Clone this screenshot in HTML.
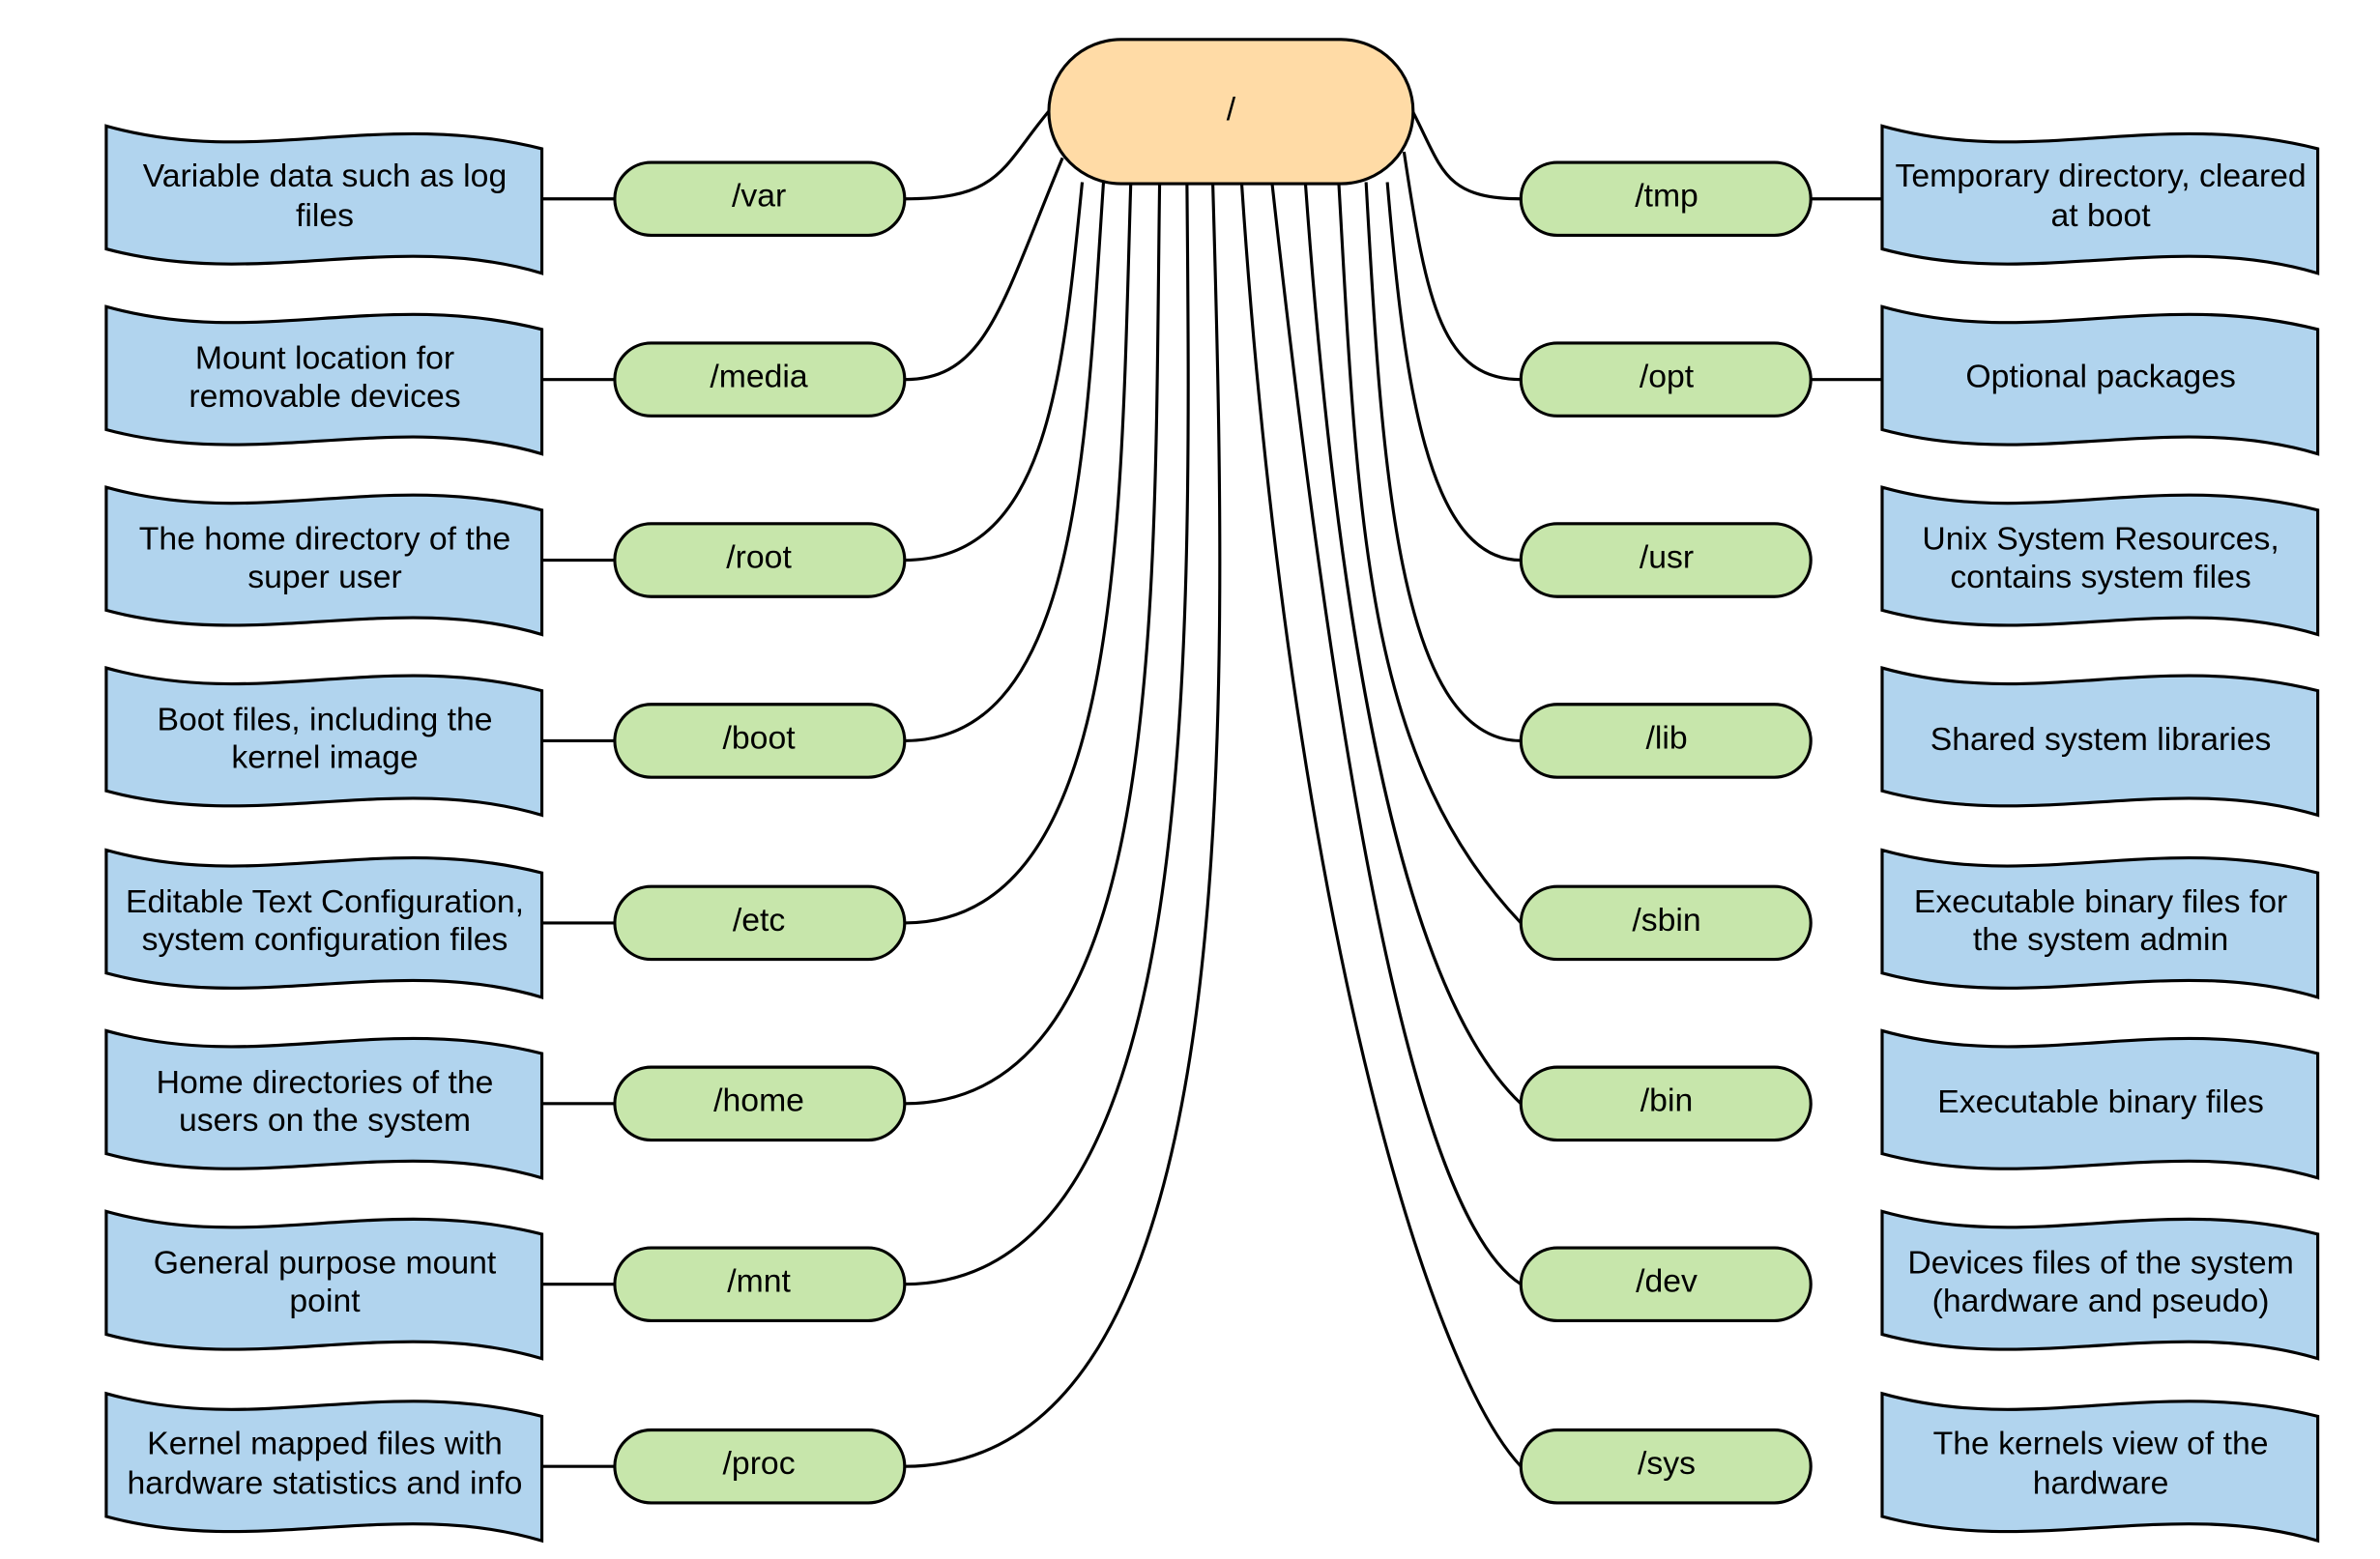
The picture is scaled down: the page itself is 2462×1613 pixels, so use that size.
<!DOCTYPE html>
<html><head><meta charset="utf-8"><style>
html,body{margin:0;padding:0;background:#fff;}
svg{display:block;}
text{font-family:"Liberation Sans",Arial,sans-serif;font-size:21.5px;fill:#000;text-anchor:middle;dominant-baseline:central;}
</style></head><body>
<svg width="2462" height="1613" viewBox="0 0 1568 1027" preserveAspectRatio="none" xmlns="http://www.w3.org/2000/svg">
<g fill="none" stroke="#000" stroke-width="2">
<path d="M596,131 C660,131 660,110 692,72"/>
<path d="M596,250 C650,250 660,200 700,104"/>
<path d="M596,369 C690,369 700,250 713,120"/>
<path d="M596,488 C710,488 715,300 727,120"/>
<path d="M596,608 C740,608 738,350 745,120"/>
<path d="M596,727 C770,727 760,400 764,120"/>
<path d="M596,846 C790,846 785,450 782,120"/>
<path d="M596,966 C820,966 810,500 799,120"/>
<path d="M1002,131 C950,131 950,110 930,72"/>
<path d="M1002,250 C950,250 940,200 925,100"/>
<path d="M1002,369 C940,369 925,250 914,120"/>
<path d="M1002,488 C920,488 910,300 900,120"/>
<path d="M1002,608 C900,500 895,350 882,120"/>
<path d="M1002,727 C920,650 880,400 860,120"/>
<path d="M1002,846 C930,800 880,500 838,120"/>
<path d="M1002,966 C940,900 850,600 818,120"/>
<path d="M357,131H405M357,250H405M357,369H405M357,488H405M357,608H405M357,727H405M357,846H405M357,966H405"/>
<path d="M1193,131H1240M1193,250H1240"/>
</g>
<rect x="691" y="26" width="240" height="95" rx="47.5" fill="#FFDBA6" stroke="#000" stroke-width="2"/>
<text x="811" y="72">/</text>
<defs>
<path id="doc" d="M0,-48 C100,-20 180,-60 287,-33 L287,49 C190,20 100,60 0,33 Z" fill="#B1D4EE" stroke="#000" stroke-width="2"/>
<rect id="pill" x="0" y="-24" width="191" height="48" rx="24" fill="#C7E6AB" stroke="#000" stroke-width="2"/>
</defs>
<g>
<use href="#doc" x="70" y="131"/><use href="#doc" x="70" y="250"/><use href="#doc" x="70" y="369"/><use href="#doc" x="70" y="488"/>
<use href="#doc" x="70" y="608"/><use href="#doc" x="70" y="727"/><use href="#doc" x="70" y="846"/><use href="#doc" x="70" y="966"/>
<use href="#doc" x="1240" y="131"/><use href="#doc" x="1240" y="250"/><use href="#doc" x="1240" y="369"/><use href="#doc" x="1240" y="488"/>
<use href="#doc" x="1240" y="608"/><use href="#doc" x="1240" y="727"/><use href="#doc" x="1240" y="846"/><use href="#doc" x="1240" y="966"/>
<use href="#pill" x="405" y="131"/><use href="#pill" x="405" y="250"/><use href="#pill" x="405" y="369"/><use href="#pill" x="405" y="488"/>
<use href="#pill" x="405" y="608"/><use href="#pill" x="405" y="727"/><use href="#pill" x="405" y="846"/><use href="#pill" x="405" y="966"/>
<use href="#pill" x="1002" y="131"/><use href="#pill" x="1002" y="250"/><use href="#pill" x="1002" y="369"/><use href="#pill" x="1002" y="488"/>
<use href="#pill" x="1002" y="608"/><use href="#pill" x="1002" y="727"/><use href="#pill" x="1002" y="846"/><use href="#pill" x="1002" y="966"/>
</g>
<g>
<text x="500" y="129">/var</text><text x="500" y="248">/media</text><text x="500" y="367">/root</text><text x="500" y="486">/boot</text>
<text x="500" y="606">/etc</text><text x="500" y="725">/home</text><text x="500" y="844">/mnt</text><text x="500" y="964">/proc</text>
<text x="1098" y="129">/tmp</text><text x="1098" y="248">/opt</text><text x="1098" y="367">/usr</text><text x="1098" y="486">/lib</text>
<text x="1098" y="606">/sbin</text><text x="1098" y="725">/bin</text><text x="1098" y="844">/dev</text><text x="1098" y="964">/sys</text>

<text x="214" y="116">Variable data such as log</text><text x="214" y="142">files</text>
<text x="214" y="236">Mount location for</text><text x="214" y="261">removable devices</text>
<text x="214" y="355">The home directory of the</text><text x="214" y="380">super user</text>
<text x="214" y="474">Boot files, including the</text><text x="214" y="499">kernel image</text>
<text x="214" y="594">Editable Text Configuration,</text><text x="214" y="619">system configuration files</text>
<text x="214" y="713">Home directories of the</text><text x="214" y="738">users on the system</text>
<text x="214" y="832">General purpose mount</text><text x="214" y="857">point</text>
<text x="214" y="951">Kernel mapped files with</text><text x="214" y="977">hardware statistics and info</text>

<text x="1384" y="116">Temporary directory, cleared</text><text x="1384" y="142">at boot</text>
<text x="1384" y="248">Optional packages</text>
<text x="1384" y="355">Unix System Resources,</text><text x="1384" y="380">contains system files</text>
<text x="1384" y="487">Shared system libraries</text>
<text x="1384" y="594">Executable binary files for</text><text x="1384" y="619">the system admin</text>
<text x="1384" y="726">Executable binary files</text>
<text x="1384" y="832">Devices files of the system</text><text x="1384" y="857">(hardware and pseudo)</text>
<text x="1384" y="951">The kernels view of the</text><text x="1384" y="977">hardware</text>
</g>
</svg>
</body></html>
